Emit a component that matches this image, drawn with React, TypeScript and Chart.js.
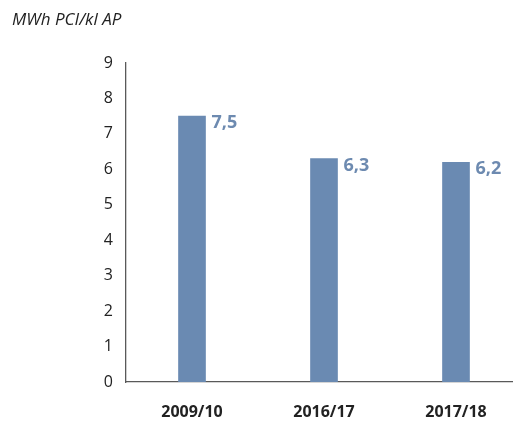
import React, { useEffect, useRef } from "react";
import { Chart, registerables } from "chart.js";

Chart.register(...registerables);

const categories = ["2009/10", "2016/17", "2017/18"];
const values = [7.5, 6.3, 6.2];
const valueLabels = ["7,5", "6,3", "6,2"];
const yTicks = [0, 1, 2, 3, 4, 5, 6, 7, 8, 9];
const unitLabel = "MWh PCI/kl AP";

const BAR_COLOR = "#6a8ab2";
const LABEL_COLOR = "#6d8ab0";
const FONT = "'Open Sans', 'Liberation Sans', sans-serif";

export default function App() {
  const ref = useRef<HTMLCanvasElement>(null);

  useEffect(() => {
    if (!ref.current) return;
    const labelPlugin = {
      id: "extras",
      afterDraw(chart: any) {
        const ctx = chart.ctx;
        ctx.save();
        ctx.font = `italic 17px ${FONT}`;
        ctx.fillStyle = "#222";
        ctx.textAlign = "left";
        ctx.textBaseline = "middle";
        ctx.fillText(unitLabel, 12, 20);
        const meta = chart.getDatasetMeta(0);
        ctx.font = `bold 18px ${FONT}`;
        ctx.fillStyle = LABEL_COLOR;
        meta.data.forEach((bar: any, i: number) => {
          const right = bar.x + bar.width / 2;
          ctx.fillText(valueLabels[i], right + 6, bar.y + 7);
        });
        ctx.restore();
      },
    };

    const chart = new Chart(ref.current, {
      type: "bar",
      data: {
        datasets: [
          {
            data: values.map((v, i) => ({ x: i, y: v })),
            backgroundColor: BAR_COLOR,
            barThickness: 27,
          },
        ],
      },
      options: {
        animation: false,
        responsive: false,
        devicePixelRatio: 1,
        layout: { padding: { top: 63, right: 1, left: 0, bottom: 0 } },
        plugins: { legend: { display: false }, tooltip: { enabled: false } },
        scales: {
          x: {
            type: "linear",
            offset: false,
            bounds: "ticks",
            min: -0.5,
            max: (512 - 126) / 132 - 0.5,
            grid: { display: false, drawTicks: false },
            border: { display: true, color: "#595959", width: 1.3 },
            afterBuildTicks: (scale: any) => {
              scale.ticks = categories.map((_, i) => ({ value: i }));
            },
            afterFit: (scale: any) => {
              scale.height = 41;
            },
            ticks: {
              padding: 21,
              color: "#222",
              font: { family: FONT, size: 16, weight: "bold" },
              callback: (v: any) => categories[v as number] ?? "",
            },
          },
          y: {
            min: 0,
            max: 9,
            grid: { display: false, drawTicks: false },
            border: { display: true, color: "#595959", width: 1.3 },
            afterBuildTicks: (scale: any) => {
              scale.ticks = yTicks.map((v) => ({ value: v }));
            },
            afterFit: (scale: any) => {
              scale.width = 126;
            },
            ticks: {
              padding: 13,
              color: "#222",
              font: { family: FONT, size: 16 },
            },
          },
        },
      },
      plugins: [labelPlugin],
    });
    return () => chart.destroy();
  }, []);

  return (
    <div style={{ position: "fixed", left: 0, top: 0, width: 513, height: 423, background: "#fff" }}>
      <canvas ref={ref} width={513} height={423} style={{ width: 513, height: 423 }} />
    </div>
  );
}
